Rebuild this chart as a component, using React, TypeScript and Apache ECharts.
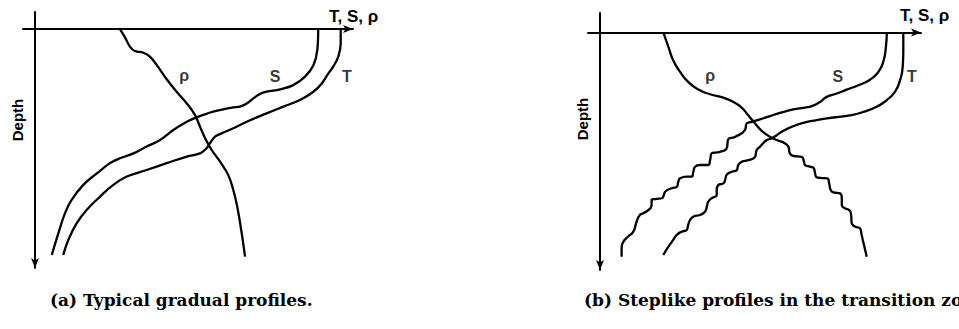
import React, { useEffect, useRef } from "react";
import * as echarts from "echarts";

// Profiles are given as [property value, depth] pairs (arbitrary units).
// Panel (a): typical gradual profiles
const rhoGradual: [number, number][] = [
  [28.3, 0], [30, 3.4], [31.7, 7.3], [33.3, 9], [36.1, 9.7], [38.3, 11.3], [40.6, 14.8],
  [43.9, 20.6], [47.2, 25.7], [50.6, 30.5], [53.3, 35.2], [55, 40], [56.7, 44.8],
  [58.9, 49.6], [61.7, 54.4], [64.4, 59.8], [66.1, 66], [67.4, 72.8], [68.9, 83.7], [70, 93.3],
];
const salGradual: [number, number][] = [
  [94.4, 0], [94.1, 8.6], [92.8, 14.8], [90, 19.5], [86.1, 23], [81.7, 24.7], [77.2, 25.7],
  [75, 26.6], [72.8, 28.4], [70.6, 30.5], [68.3, 31.8], [66.1, 32.1], [62.8, 32.9],
  [59.4, 33.9], [56.1, 35.2], [53.9, 36.2], [50.6, 38], [46.1, 41.4], [41.7, 45.5],
  [37.2, 48.2], [32.8, 51], [28.3, 53], [25, 55], [20.6, 59.2], [16.1, 63.9], [12.2, 70.1],
  [10, 75.5], [7.8, 83.7], [5.6, 92.6],
];
const tempGradual: [number, number][] = [
  [101.9, 0], [101.9, 5.9], [101.1, 11.3], [99.4, 15.4], [97.8, 18.2], [95.6, 22.3],
  [92.8, 25.7], [88.3, 29.1], [82.8, 31.8], [77.2, 34.6], [70.6, 38], [66.1, 40.7],
  [62.2, 42.8], [60, 44.1], [58.3, 46.9], [57.2, 48.9], [55, 51], [50.6, 52.3], [43.9, 55],
  [37.2, 57.8], [30.6, 60.5], [26.1, 63.9], [21.7, 68.7], [17.2, 74.2], [13.9, 79.6],
  [11.1, 86.5], [9.4, 92.6],
];

// Panel (b): steplike profiles in the transition zone
const rhoStep: [number, number][] = [
  [21.1, 0], [22.8, 6], [24.4, 11.5], [26.7, 16.3], [29.4, 20.4], [32.8, 23.6], [36.7, 25.5],
  [41.1, 26.9], [44.4, 28.7], [47.2, 31], [49.4, 34.2], [51.7, 37.6], [53.9, 40.6],
  [56.7, 43.1], [58.9, 44.4], [61.7, 45.8], [62.8, 47.2], [63.3, 49.9], [64.4, 50.9],
  [67.2, 51.3], [68, 53.4], [68.3, 54.7], [70, 55.4], [71.1, 55.8], [71.7, 58.1], [72, 59.5],
  [73.3, 60], [75.8, 60.2], [76.4, 62.3], [76.9, 65], [77.8, 66], [80, 66.4], [80.6, 68.4],
  [80.6, 71.2], [81.7, 72.6], [83.1, 73.3], [83.7, 75.3], [83.9, 78.7], [85, 80.1],
  [86.7, 80.8], [87.2, 83.5], [88, 87.7], [88.9, 92.5],
];
const salStep: [number, number][] = [
  [95.6, 0], [95.3, 6], [94.4, 12.2], [92.8, 16.3], [90, 19.5], [86.1, 21.8], [82.2, 23.6],
  [78.9, 25.2], [75.6, 26.6], [73.3, 28.7], [70.6, 30.4], [68.3, 31], [64.4, 31.8],
  [60, 33.2], [56.7, 34.5], [53.3, 35.9], [50.6, 36.9], [48.9, 37.6], [48.3, 40.3],
  [45, 43.1], [42.8, 44], [42.2, 47.9], [40, 49.3], [37.2, 49.9], [36.7, 52.7], [36.1, 54.7],
  [33.3, 54.7], [31.7, 55.4], [31.1, 57.5], [30.6, 59.5], [28.9, 59.5], [26.7, 60.2],
  [26.1, 61.6], [25.6, 63.7], [23.9, 64.3], [21.7, 65.7], [21.3, 67.1], [20.6, 68.4],
  [18.9, 68.7], [17.2, 69.1], [17.2, 71.2], [16.1, 73.3], [14.4, 74.6], [13.3, 75.3],
  [12.2, 78.1], [11.1, 82.2], [9.4, 84.2], [7.8, 86.3], [7.2, 89], [7.2, 92.5],
];
const tempStep: [number, number][] = [
  [101.1, 0], [101.1, 7.4], [100.9, 14.2], [100, 19.8], [98.3, 24.5], [95.6, 27.9],
  [92.2, 30.7], [87.8, 32.8], [83.3, 34.2], [77.8, 35.1], [72.2, 36.2], [67.8, 37.3],
  [64.4, 38.7], [61.1, 40.6], [58.9, 42.4], [57.2, 43.7], [55.6, 44.4], [53.3, 47.2],
  [52.2, 48.6], [51.7, 51.3], [49.4, 52.7], [47.2, 53.4], [46.1, 54.7], [45.6, 56.8],
  [43.9, 57.5], [42.2, 58.8], [41.7, 60.9], [41.1, 62.3], [39.4, 63], [38.9, 65],
  [38.9, 67.1], [37.2, 68.4], [36.1, 69.8], [35.6, 71.9], [35, 74], [33.3, 75.3], [31.1, 76],
  [30, 77.4], [29.4, 79.4], [28.9, 81.5], [27.2, 82.2], [25.6, 83.5], [24.4, 85.6],
  [22.8, 88.4], [21.1, 91.8],
];

// Curve names and where they are written in each panel
const curveNames = ["ρ", "S", "T"];
const namePosGradual: [number, number][] = [[49.7, 18.9], [80, 19.3], [104, 19.3]];
const namePosStep: [number, number][] = [[36.7, 17.7], [79.3, 18.1], [104, 18.1]];

const axisTitle = "T, S, ρ";
const depthTitle = "Depth";
const captions = ["(a) Typical gradual profiles.", "(b) Steplike profiles in the transition zone."];

const INK = "#000";
const SANS = "'Liberation Sans', Arial, sans-serif";

export default function App() {
  const ref = useRef<HTMLDivElement>(null);

  useEffect(() => {
    if (!ref.current) return;
    const chart = echarts.init(ref.current, undefined, { renderer: "svg" });

    const grids = [
      { left: 23, top: 12, width: 330, height: 256 },
      { left: 588, top: 13, width: 333, height: 257 },
    ];
    const xRanges = [[-4, 106], [-4, 107]];
    const yRanges = [[-7, 98], [-8, 98]];

    const axisLine = (symbol: string[]) => ({
      show: true,
      onZero: true,
      symbol,
      symbolSize: [6, 10],
      lineStyle: { color: INK, width: 2 },
    });

    const xAxis = xRanges.map(([min, max], i) => ({
      type: "value",
      gridIndex: i,
      min,
      max,
      position: "top",
      axisLine: axisLine(["none", "arrow"]),
      axisTick: { show: false },
      axisLabel: { show: false },
      splitLine: { show: false },
    }));
    const yAxis = yRanges.map(([min, max], i) => ({
      type: "value",
      gridIndex: i,
      min,
      max,
      inverse: true,
      axisLine: axisLine(["arrow", "none"]),
      axisTick: { show: false },
      axisLabel: { show: false },
      splitLine: { show: false },
    }));

    const profile = (data: [number, number][], idx: number, smooth: number) => ({
      type: "line",
      xAxisIndex: idx,
      yAxisIndex: idx,
      data,
      smooth,
      symbol: "none",
      silent: true,
      lineStyle: { color: INK, width: 2.3 },
    });

    const names = (pos: [number, number][], idx: number) => ({
      type: "scatter",
      xAxisIndex: idx,
      yAxisIndex: idx,
      symbolSize: 0,
      silent: true,
      data: pos.map((p, k) => ({ value: p, name: curveNames[k] })),
      label: {
        show: true,
        position: "inside",
        formatter: "{b}",
        color: INK,
        fontFamily: SANS,
        fontWeight: "bold",
        fontSize: 16,
      },
    });

    const titleTexts = [
      { x: 329, y: 8 },
      { x: 900, y: 7 },
    ].map((p) => ({
      type: "text",
      x: p.x,
      y: p.y,
      style: { text: axisTitle, fill: INK, font: `bold 17px ${SANS}`, textAlign: "left", textVerticalAlign: "top" },
    }));

    const depthTexts = [
      { x: 17, y: 120 },
      { x: 582, y: 119 },
    ].map((p) => ({
      type: "text",
      x: p.x,
      y: p.y,
      rotation: Math.PI / 2,
      style: { text: depthTitle, fill: INK, font: `bold 15px ${SANS}`, textAlign: "center", textVerticalAlign: "middle" },
    }));

    const captionTexts = [
      { x: 50, y: 291 },
      { x: 584, y: 291 },
    ].map((p, i) => ({
      type: "text",
      x: p.x,
      y: p.y,
      style: {
        text: captions[i],
        fill: INK,
        font: "bold 17px 'DejaVu Serif', serif",
        textAlign: "left",
        textVerticalAlign: "top",
      },
    }));

    chart.setOption({
      animation: false,
      backgroundColor: "#fff",
      grid: grids,
      xAxis,
      yAxis,
      series: [
        profile(rhoGradual, 0, 0.4),
        profile(salGradual, 0, 0.4),
        profile(tempGradual, 0, 0.4),
        names(namePosGradual, 0),
        profile(rhoStep, 1, 0.55),
        profile(salStep, 1, 0.55),
        profile(tempStep, 1, 0.55),
        names(namePosStep, 1),
      ],
      graphic: [...titleTexts, ...depthTexts, ...captionTexts],
    });

    return () => chart.dispose();
  }, []);

  return (
    <div
      ref={ref}
      style={{ position: "fixed", left: 0, top: 0, width: 959, height: 329, background: "#fff" }}
    />
  );
}
